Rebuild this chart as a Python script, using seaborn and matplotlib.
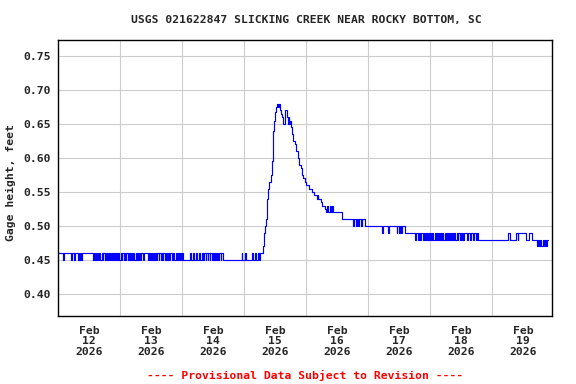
import matplotlib
matplotlib.use("Agg")
import matplotlib.pyplot as plt
import seaborn as sns
import pandas as pd

# ---------------- data (hours since Feb 12 2026 00:00, gage height ft) ----------------
title = "USGS 021622847 SLICKING CREEK NEAR ROCKY BOTTOM, SC"
ylabel = "Gage height, feet"
footer = "---- Provisional Data Subject to Revision ----"
day_labels = ["Feb\n12\n2026", "Feb\n13\n2026", "Feb\n14\n2026", "Feb\n15\n2026",
              "Feb\n16\n2026", "Feb\n17\n2026", "Feb\n18\n2026", "Feb\n19\n2026"]
y_ticks = [0.40, 0.45, 0.50, 0.55, 0.60, 0.65, 0.70, 0.75]

# base flow before the event (toggling 0.46 / 0.45)
hours_pre = [0, 2.1, 2.4, 5.0, 5.4, 6.2, 6.5, 7.7, 8.0, 8.3, 8.6, 8.9, 9.2,
             13.5, 13.8, 14.3, 14.6, 14.9, 15.2,
             15.6, 15.9, 16.4, 16.9, 17.3, 17.6, 18.1, 18.5, 18.9, 19.2, 19.7, 20.1,
             20.5, 20.8, 21.3, 21.8, 22.2, 22.5, 23.0, 23.3, 23.8, 24.3, 24.6, 24.9,
             25.4, 25.8, 26.2, 26.5, 27.0, 27.5, 27.9, 28.2, 28.7, 29.0, 29.5, 30.0,
             30.3, 30.6, 31.1, 31.5, 31.9, 32.2, 33.0, 33.3, 34.8, 35.1, 35.6, 35.9,
             36.5, 36.8, 37.3, 37.6, 38.1, 38.5, 38.9, 39.2, 39.7, 40.2, 40.5, 40.8,
             41.3, 41.7, 42.2, 42.6, 43.0, 43.3, 44.2, 44.5, 45.0, 45.6, 46.0, 46.3,
             46.8, 47.1, 47.6, 48.0,
             48.4, 51.1, 51.5, 52.2, 52.6, 53.5, 53.9, 54.7, 55.0, 55.8, 56.3, 56.6,
             57.1, 57.4, 57.9, 58.2, 58.7, 59.0, 59.6, 59.9, 60.4, 60.7, 61.2, 61.6,
             62.1, 62.4, 62.9, 63.2, 63.9,
             71.1, 71.4, 72.4, 72.7, 75.0, 75.3, 76.3, 76.6, 77.5, 77.8]
stage_pre = [0.46, 0.45, 0.46, 0.45, 0.46, 0.45, 0.46, 0.45, 0.46, 0.45, 0.46, 0.45, 0.46,
             0.45, 0.46, 0.45, 0.46, 0.45, 0.46,
             0.45, 0.46, 0.45, 0.46, 0.45, 0.46, 0.45, 0.46, 0.45, 0.46, 0.45, 0.46,
             0.45, 0.46, 0.45, 0.46, 0.45, 0.46, 0.45, 0.46, 0.45, 0.46, 0.45, 0.46,
             0.45, 0.46, 0.45, 0.46, 0.45, 0.46, 0.45, 0.46, 0.45, 0.46, 0.45, 0.46,
             0.45, 0.46, 0.45, 0.46, 0.45, 0.46, 0.45, 0.46, 0.45, 0.46, 0.45, 0.46,
             0.45, 0.46, 0.45, 0.46, 0.45, 0.46, 0.45, 0.46, 0.45, 0.46, 0.45, 0.46,
             0.45, 0.46, 0.45, 0.46, 0.45, 0.46, 0.45, 0.46, 0.45, 0.46, 0.45, 0.46,
             0.45, 0.46, 0.45, 0.46,
             0.45, 0.46, 0.45, 0.46, 0.45, 0.46, 0.45, 0.46, 0.45, 0.46, 0.45, 0.46,
             0.45, 0.46, 0.45, 0.46, 0.45, 0.46, 0.45, 0.46, 0.45, 0.46, 0.45, 0.46,
             0.45, 0.46, 0.45, 0.46, 0.45,
             0.46, 0.45, 0.46, 0.45, 0.46, 0.45, 0.46, 0.45, 0.46, 0.45]

# storm event on Feb 15
hours_event = [78.2, 79.5, 79.9, 80.1, 80.4, 80.8, 81.0, 81.3, 81.8, 82.3, 82.7, 83.1,
               83.4, 83.6, 84.0, 84.4, 84.7, 85.3, 85.6, 85.9, 86.2, 86.7, 87.2, 87.7,
               88.0, 88.5, 89.0, 89.3, 89.6, 89.8, 90.2, 90.7, 91.1, 91.7, 92.1, 93.0,
               93.4, 93.9, 94.5, 95.0, 95.5, 96.0, 97.3, 98.2, 99.1, 100.1, 100.5, 100.8,
               101.7, 102.2, 103.4, 103.9, 104.3, 104.6, 105.3, 105.6, 106.0, 106.3]
stage_event = [0.46, 0.47, 0.49, 0.50, 0.51, 0.53, 0.54, 0.555, 0.565, 0.575, 0.595, 0.615,
               0.64, 0.655, 0.668, 0.675, 0.68, 0.675, 0.68, 0.67, 0.665, 0.66, 0.65, 0.665,
               0.67, 0.66, 0.65, 0.66, 0.65, 0.655, 0.645, 0.635, 0.625, 0.62, 0.61, 0.60,
               0.59, 0.585, 0.575, 0.57, 0.565, 0.56, 0.555, 0.55, 0.545, 0.54, 0.545, 0.54,
               0.535, 0.53, 0.525, 0.52, 0.53, 0.52, 0.53, 0.52, 0.53, 0.52]

# recession
hours_post = [110.1, 114.1, 114.4, 115.3, 115.6, 116.0, 116.5, 117.2, 117.5, 118.8,
              125.3, 125.7, 127.9, 128.2, 131.1, 131.4, 131.9, 132.2, 132.6, 133.0, 134.3,
              138.2, 138.7, 139.3, 139.6, 140.1, 140.5, 141.2, 141.5, 142.1, 142.6,
              142.9, 143.2, 143.5, 143.9, 144.4, 144.7, 145.3, 145.9, 146.3, 146.6,
              147.0, 147.3, 147.9, 148.4, 148.8, 149.0, 149.2, 149.8, 150.2, 150.5,
              150.8, 151.4, 151.7, 152.0, 152.4, 152.7, 153.1, 153.4, 153.7, 154.3,
              154.7, 155.0, 155.5, 155.8, 156.3, 156.6, 156.9, 157.3, 158.2, 158.5,
              159.5, 159.8, 160.8, 161.1, 161.8, 162.1, 162.4,
              174.2, 175.0, 177.2, 177.9, 178.2, 181.1, 182.2, 183.5,
              185.4, 185.9, 186.3, 186.7, 187.1, 187.6, 188.0, 188.5, 188.9, 189.2, 189.7]
stage_post = [0.51, 0.50, 0.51, 0.50, 0.51, 0.50, 0.51, 0.50, 0.51, 0.50,
              0.49, 0.50, 0.49, 0.50, 0.49, 0.50, 0.49, 0.50, 0.49, 0.50, 0.49,
              0.48, 0.49, 0.48, 0.49, 0.48, 0.49, 0.48, 0.49, 0.48, 0.49,
              0.48, 0.49, 0.48, 0.49, 0.48, 0.49, 0.48, 0.49, 0.48, 0.49,
              0.48, 0.49, 0.48, 0.49, 0.48, 0.49, 0.48, 0.49, 0.48, 0.49,
              0.48, 0.49, 0.48, 0.49, 0.48, 0.49, 0.48, 0.49, 0.48, 0.49,
              0.48, 0.49, 0.48, 0.49, 0.48, 0.49, 0.48, 0.49, 0.48, 0.49,
              0.48, 0.49, 0.48, 0.49, 0.48, 0.49, 0.48,
              0.49, 0.48, 0.49, 0.48, 0.49, 0.48, 0.49, 0.48,
              0.47, 0.48, 0.47, 0.48, 0.47, 0.48, 0.47, 0.48, 0.47, 0.48, 0.48]

df = pd.DataFrame({"hours": hours_pre + hours_event + hours_post,
                   "stage": stage_pre + stage_event + stage_post})

# ---------------- figure ----------------
sns.set_style("white")
FONT = dict(family="DejaVu Sans Mono", weight="bold", size=8.2)

fig = plt.figure(figsize=(5.76, 3.84), dpi=100)
ax = fig.add_axes([58 / 576, 1 - 316 / 384, 494 / 576, 276 / 384])

sns.lineplot(data=df, x="hours", y="stage", ax=ax, color="#0000ff", lw=0.85,
             drawstyle="steps-post", estimator=None, sort=False)

ax.set_xlim(0, 191.2)
ax.set_ylim(0.3676, 0.7735)

ax.set_yticks(y_ticks)
ax.set_yticklabels([f"{v:.2f}" for v in y_ticks], fontdict=FONT)
ax.set_xticks([12 + 24 * i for i in range(8)])
ax.set_xticklabels(day_labels, fontdict=FONT, linespacing=1.05)
ax.set_xticks([24 * i for i in range(1, 8)], minor=True)

ax.grid(False)
ax.grid(True, which="minor", axis="x", color="#cccccc", lw=0.8)
ax.grid(True, which="major", axis="y", color="#cccccc", lw=0.8)
ax.tick_params(axis="both", which="both", length=0)
ax.tick_params(axis="x", pad=7)
ax.tick_params(axis="y", pad=5)
ax.set_xlabel("")
ax.set_ylabel("")
for s in ax.spines.values():
    s.set_visible(True)
    s.set_color("black")
    s.set_linewidth(1.0)

fig.text(306 / 576, 1 - 20 / 384, title, ha="center", va="center", **FONT)
fig.text(11 / 576, 1 - 183 / 384, ylabel, ha="center", va="center", rotation=90, **FONT)
fig.text(305 / 576, 1 - 375 / 384, footer, ha="center", va="center", color="#ff0000", **FONT)

fig.savefig("out.png", dpi=100)
